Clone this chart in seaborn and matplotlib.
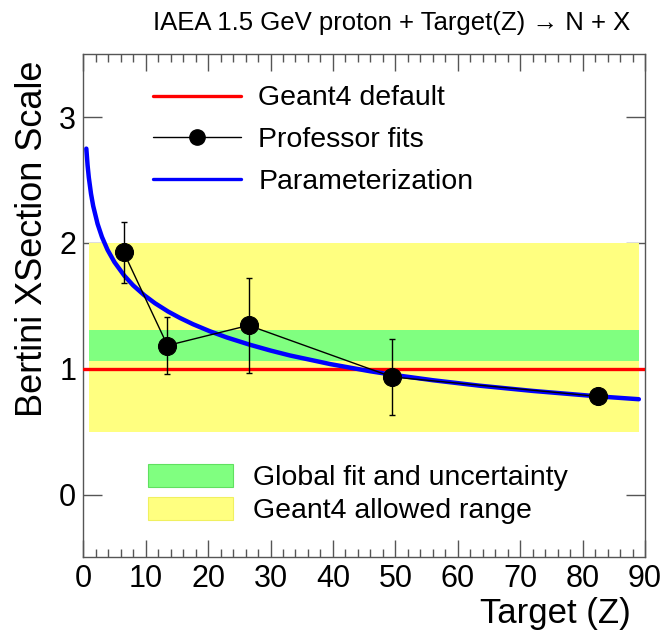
import numpy as np
import pandas as pd
import matplotlib
matplotlib.use("Agg")
import matplotlib.pyplot as plt
import seaborn as sns
from matplotlib.lines import Line2D
from matplotlib.patches import Patch
from matplotlib.ticker import MultipleLocator

# ---- data ----
target_z = [6.5, 13.5, 26.5, 49.5, 82.5]
fit_scale = [1.925, 1.185, 1.345, 0.935, 0.78]
fit_err = [0.24, 0.23, 0.38, 0.30, 0.05]

param_z = [0.5, 0.7, 0.9, 1.25, 1.6, 2.3, 3.0, 3.9, 5.0, 6.6, 8.0, 9.8, 11.5, 13.6,
           15.5, 17.6, 20.3, 23.0, 26.7, 30.0, 33.1, 39.6, 46.0, 49.5, 56.0, 63.6,
           72.0, 82.4, 89.0]
param_scale = [2.75, 2.618, 2.52, 2.391, 2.294, 2.152, 2.048, 1.945, 1.848, 1.739,
               1.663, 1.584, 1.521, 1.455, 1.404, 1.354, 1.298, 1.249, 1.191, 1.145,
               1.106, 1.037, 0.98, 0.953, 0.909, 0.865, 0.824, 0.781, 0.758]

geant4_default = 1.0
global_fit_band = (1.06, 1.31)
allowed_band = (0.5, 2.0)
band_z_range = (1.0, 89.0)

title = "IAEA 1.5 GeV proton + Target(Z) \u2192 N + X"
xlabel = "Target (Z)"
ylabel = "Bertini XSection Scale"

sns.set_theme(style="ticks")
plt.rcParams["font.family"] = ["Liberation Sans", "DejaVu Sans"]
plt.rcParams["text.color"] = "black"
plt.rcParams["axes.labelcolor"] = "black"
plt.rcParams["xtick.labelcolor"] = "black"
plt.rcParams["ytick.labelcolor"] = "black"

fig = plt.figure(figsize=(6.63, 6.31), dpi=100)
ax = fig.add_axes([0.1255, 0.1165, 0.8475, 0.7975])

ax.fill_between(band_z_range, allowed_band[0], allowed_band[1], color="#ffff80", lw=0, zorder=1)
ax.fill_between(band_z_range, global_fit_band[0], global_fit_band[1], color="#80ff80", lw=0, zorder=2)
ax.axhline(geant4_default, color="#ff0000", lw=2.4, zorder=3)

df_param = pd.DataFrame({"z": param_z, "s": param_scale})
sns.lineplot(data=df_param, x="z", y="s", color="#0000ff", lw=3.2, ax=ax, zorder=4, sort=True)

df_fit = pd.DataFrame({"z": target_z, "s": fit_scale})
ax.errorbar(target_z, fit_scale, yerr=fit_err, fmt="none", ecolor="black", elinewidth=1.0,
            capsize=2, capthick=1.0, zorder=5)
sns.lineplot(data=df_fit, x="z", y="s", color="black", lw=1.0, marker="o", markersize=13,
             markeredgecolor="black", ax=ax, zorder=6)

ax.set_xlim(0, 90)
ax.set_ylim(-0.5, 3.5)
ax.xaxis.set_major_locator(MultipleLocator(10))
ax.xaxis.set_minor_locator(MultipleLocator(2))
ax.yaxis.set_major_locator(MultipleLocator(1))
ax.tick_params(axis="both", which="both", direction="in", top=True, right=True, color="#555555")
ax.tick_params(axis="x", which="major", length=12, width=1, labelsize=22, pad=5)
ax.tick_params(axis="x", which="minor", length=6, width=1)
ax.tick_params(axis="y", which="major", length=14, width=1, labelsize=22, pad=5)
for s in ax.spines.values():
    s.set_color("#555555")
    s.set_linewidth(1.0)

ax.set_xlabel(xlabel, fontsize=25)
ax.xaxis.set_label_coords(0.975, -0.079)
ax.xaxis.label.set_ha("right")
ax.set_ylabel(ylabel, fontsize=26)
ax.yaxis.set_label_coords(-0.122, 0.988)
ax.yaxis.label.set_va("top")
ax.yaxis.label.set_ha("right")
fig.text(0.59, 0.963, title, ha="center", va="center", fontsize=18.5)

h1 = [Line2D([], [], color="#ff0000", lw=2.4),
      Line2D([], [], color="black", lw=1.0, marker="o", markersize=11),
      Line2D([], [], color="#0000ff", lw=2.4)]
leg1 = ax.legend(h1, ["Geant4 default", "Professor fits", "Parameterization"],
                 loc="upper left", bbox_to_anchor=(0.124, 0.938), frameon=False, fontsize=20.5,
                 handlelength=3.1, handletextpad=0.6, labelspacing=0.55,
                 borderpad=0, borderaxespad=0)
ax.add_artist(leg1)
h2 = [Patch(facecolor="#80ff80", edgecolor="#60e060", lw=0.8),
      Patch(facecolor="#ffff80", edgecolor="#f0f060", lw=0.8)]
ax.legend(h2, ["Global fit and uncertainty", "Geant4 allowed range"],
          loc="lower left", bbox_to_anchor=(0.115, 0.066), frameon=False, fontsize=20.5,
          handlelength=3.0, handleheight=0.85, handletextpad=0.7, labelspacing=0.2,
          borderpad=0, borderaxespad=0)

fig.savefig("out.png", dpi=100)
